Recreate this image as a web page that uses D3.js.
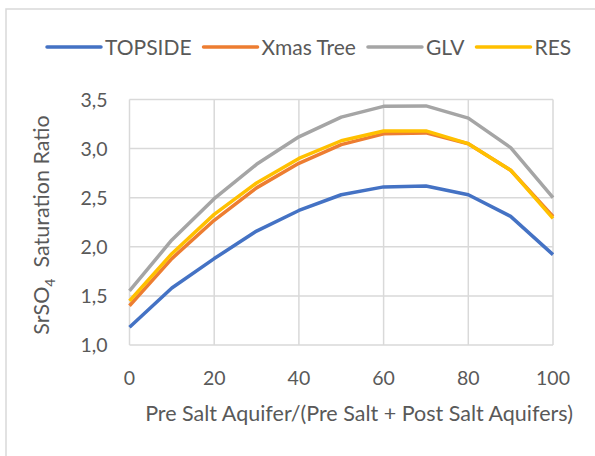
<!DOCTYPE html>
<html>
<head>
<meta charset="utf-8">
<script src="https://cdn.jsdelivr.net/npm/d3@7"></script>
<style>
  body { margin: 0; background: #fff; }
  svg { display: block; font-family: Lato, "Open Sans", sans-serif; }
</style>
</head>
<body>
<div id="chart"></div>
<script>
  const fractions = [0, 10, 20, 30, 40, 50, 60, 70, 80, 90, 100];
  const topside = [1.18, 1.58, 1.88, 2.16, 2.37, 2.53, 2.61, 2.62, 2.53, 2.31, 1.92];
  const xmasTree = [1.4, 1.88, 2.27, 2.6, 2.85, 3.04, 3.15, 3.16, 3.05, 2.78, 2.31];
  const glv = [1.55, 2.07, 2.49, 2.84, 3.12, 3.32, 3.43, 3.435, 3.31, 3.01, 2.5];
  const res = [1.45, 1.93, 2.33, 2.65, 2.9, 3.08, 3.18, 3.18, 3.05, 2.78, 2.29];
  const seriesNames = ["TOPSIDE", "Xmas Tree", "GLV", "RES"];
  const seriesValues = [topside, xmasTree, glv, res];
  const colors = ["#4472C4", "#ED7D31", "#A5A5A5", "#FFC000"];
  const yTicks = [1.0, 1.5, 2.0, 2.5, 3.0, 3.5];
  const xTicks = [0, 20, 40, 60, 80, 100];

  const width = 595;
  const height = 456;
  const margin = { top: 99.5, right: 42, bottom: 111, left: 129.5 };
  const textColor = "#595959";
  const gridColor = "#d9d9d9";

  const svg = d3.select("#chart").append("svg").attr("width", width).attr("height", height);

  // outer chart frame
  svg.append("rect")
    .attr("x", 6).attr("y", 9)
    .attr("width", width + 10).attr("height", height + 10)
    .attr("fill", "none").attr("stroke", gridColor).attr("stroke-width", 1.5);

  const x = d3.scaleLinear().domain([0, 100]).range([margin.left, width - margin.right]);
  const y = d3.scaleLinear().domain([1, 3.5]).range([height - margin.bottom, margin.top]);

  svg.append("g")
    .selectAll("line")
    .data(yTicks)
    .join("line")
    .attr("x1", x(0)).attr("x2", x(100))
    .attr("y1", (d) => y(d)).attr("y2", (d) => y(d))
    .attr("stroke", gridColor).attr("stroke-width", 1.5);

  svg.append("g")
    .selectAll("line")
    .data(xTicks)
    .join("line")
    .attr("x1", (d) => x(d)).attr("x2", (d) => x(d))
    .attr("y1", y(1)).attr("y2", y(3.5))
    .attr("stroke", gridColor).attr("stroke-width", 1.5);

  const fmt = (d) => d3.format(".1f")(d).replace(".", ",");

  svg.append("g")
    .selectAll("text")
    .data(yTicks)
    .join("text")
    .attr("x", margin.left - 22)
    .attr("y", (d) => y(d))
    .attr("dy", "0.36em")
    .attr("text-anchor", "end")
    .attr("fill", textColor)
    .attr("font-size", 19.5)
    .text(fmt);

  svg.append("g")
    .selectAll("text")
    .data(xTicks)
    .join("text")
    .attr("x", (d) => x(d))
    .attr("y", y(1) + 40)
    .attr("text-anchor", "middle")
    .attr("fill", textColor)
    .attr("font-size", 19.5)
    .text((d) => d);

  svg.append("text")
    .attr("x", 359)
    .attr("y", y(1) + 76)
    .attr("text-anchor", "middle")
    .attr("fill", textColor)
    .attr("font-size", 21.5)
    .text("Pre Salt Aquifer/(Pre Salt + Post Salt Aquifers)");

  const yTitle = svg.append("text")
    .attr("transform", `translate(49, 225) rotate(-90)`)
    .attr("text-anchor", "middle")
    .attr("fill", textColor)
    .attr("font-size", 21.5);
  yTitle.append("tspan").text("SrSO");
  yTitle.append("tspan").attr("font-size", 14).attr("dy", 6).text("4");
  yTitle.append("tspan").attr("dy", -6).text("\u00a0 Saturation Ratio");

  const line = d3.line().x((d, i) => x(fractions[i])).y((d) => y(d));

  svg.append("g")
    .selectAll("path")
    .data(seriesValues)
    .join("path")
    .attr("d", (d) => line(d))
    .attr("fill", "none")
    .attr("stroke", (d, i) => colors[i])
    .attr("stroke-width", 3.5)
    .attr("stroke-linejoin", "round");

  // legend
  const legend = svg.append("g").attr("transform", "translate(47, 47)");
  let offset = 0;
  seriesNames.forEach((name, i) => {
    const item = legend.append("g").attr("transform", `translate(${offset}, 0)`);
    item.append("line")
      .attr("x1", 0).attr("x2", 54)
      .attr("stroke", colors[i]).attr("stroke-width", 3.5).attr("stroke-linecap", "round");
    const label = item.append("text")
      .attr("x", 58)
      .attr("dy", "0.36em")
      .attr("fill", textColor)
      .attr("font-size", 21)
      .text(name);
    offset += 58 + label.node().getComputedTextLength() + 12;
  });
</script>
</body>
</html>
